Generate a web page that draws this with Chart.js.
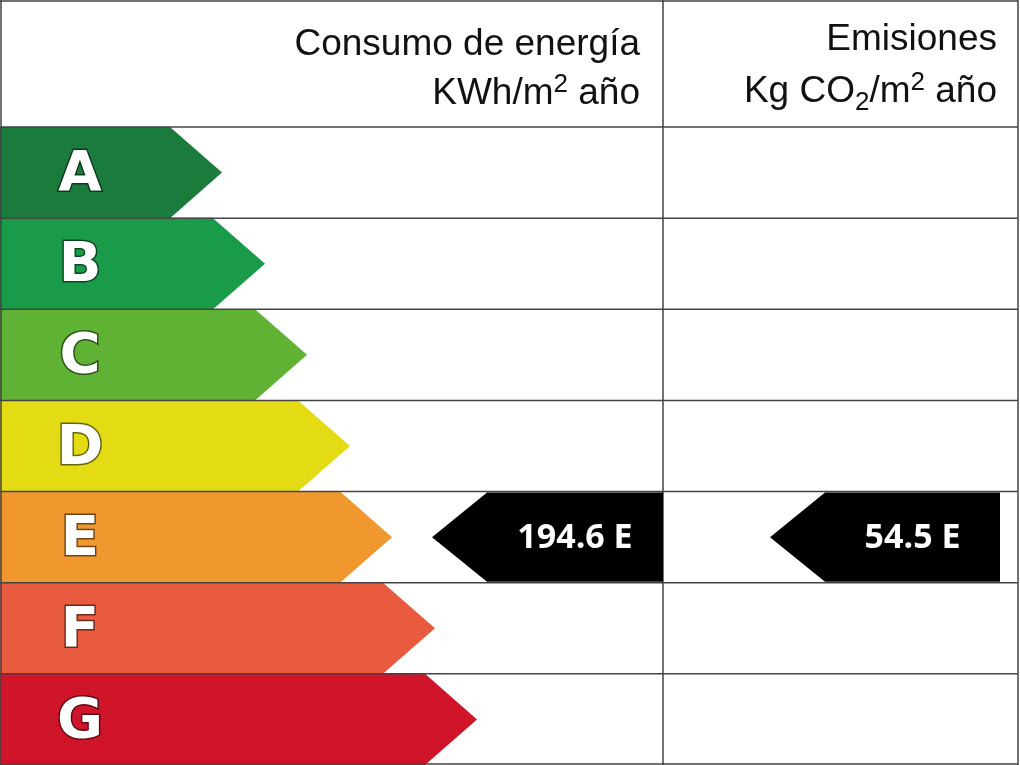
<!DOCTYPE html>
<html><head><meta charset="utf-8">
<script src="https://cdn.jsdelivr.net/npm/chart.js@4/dist/chart.umd.min.js"></script>
<style>html,body{margin:0;padding:0;background:#fff}#w{width:1020px;height:765px}</style>
</head><body><div id="w"><canvas id="c"></canvas></div>
<script>
const categories = ['A','B','C','D','E','F','G'];
const barEnds = [170,213,255,298,340,383,425];
const colors = ['#1b7b3d','#1a9b49','#5fb233','#e3dc14','#f0972e','#e95b3f','#d0152b'];
const ratingValues = ['194.6 E','54.5 E'];
const ratingClass = 'E';

const TIP = 52, HEAD = 127, DIV = 663, RIGHT = 1018;
const markerTips = [432, 770], markerEnds = [663, 1000];

const plugin = {
  id:'label',
  beforeDatasetsDraw(ch){
    const c = ch.ctx;
    c.save();
    c.fillStyle='#fff';c.fillRect(0,0,1020,765);
    c.restore();
  },
  afterDatasetsDraw(ch){
    const c = ch.ctx, y = ch.scales.y, meta = ch.getDatasetMeta(0);
    c.save();
    meta.data.forEach((b,i)=>{
      const h = b.height, top = b.y-h/2;
      c.fillStyle = colors[i];
      c.beginPath();
      c.moveTo(b.x-1, top); c.lineTo(b.x, top); c.lineTo(b.x+TIP, b.y); c.lineTo(b.x, top+h); c.lineTo(b.x-1, top+h);
      c.closePath(); c.fill();
      c.font = 'bold 56px "DejaVu Sans"';
      c.textAlign='center'; c.textBaseline='middle';
      c.lineWidth=3; c.strokeStyle='rgba(0,0,0,0.55)';
      c.strokeText(categories[i], 80, b.y+3);
      c.fillStyle='#fff';
      c.fillText(categories[i], 80, b.y+3);
    });
    // grid
    c.strokeStyle='#444'; c.lineWidth=1.5;
    const h = meta.data[0].height;
    c.beginPath();
    for(let i=0;i<categories.length;i++){
      const t = y.getPixelForValue(i)-h/2;
      c.moveTo(0,t); c.lineTo(RIGHT,t);
    }
    c.moveTo(0,1); c.lineTo(RIGHT,1);
    c.moveTo(1,0); c.lineTo(1,765);
    c.moveTo(RIGHT,0); c.lineTo(RIGHT,765);
    c.moveTo(0,764); c.lineTo(RIGHT,764);
    c.moveTo(DIV,0); c.lineTo(DIV,765);
    c.stroke();
    // markers
    const ey = y.getPixelForValue(categories.indexOf(ratingClass));
    const mh = h-2;
    ratingValues.forEach((v,k)=>{
      const tip = markerTips[k], end = markerEnds[k];
      c.fillStyle='#000';
      c.beginPath();
      c.moveTo(tip, ey); c.lineTo(tip+55, ey-mh/2); c.lineTo(end, ey-mh/2); c.lineTo(end, ey+mh/2); c.lineTo(tip+55, ey+mh/2);
      c.closePath(); c.fill();
      c.fillStyle='#fff'; c.font='bold 34px "Open Sans"'; c.textAlign='center'; c.textBaseline='middle';
      c.fillText(v, (tip+55+end)/2, ey+1);
    });
    // headers
    c.fillStyle='#111'; c.textBaseline='alphabetic';
    const F = '37px "Liberation Sans"', S = '26px "Liberation Sans"';
    function parts(xr, yb, list){
      let w=0; list.forEach(p=>{c.font=p[1]?S:F; w+=c.measureText(p[0]).width;});
      let x = xr-w; c.textAlign='left';
      list.forEach(p=>{c.font=p[1]?S:F; c.fillText(p[0], x, yb+(p[1]||0)); x+=c.measureText(p[0]).width;});
    }
    parts(640,55,[['Consumo de energía']]);
    parts(640,104,[['KWh/m'],['2',-12],[' año']]);
    parts(997,50,[['Emisiones']]);
    parts(997,102,[['Kg CO'],['2',8],['/m'],['2',-12],[' año']]);
    c.restore();
  }
};

new Chart(document.getElementById('c'),{
  type:'bar',
  data:{labels:categories,datasets:[{data:barEnds,backgroundColor:colors,barPercentage:1,categoryPercentage:1,borderWidth:0}]},
  options:{
    indexAxis:'y',responsive:true,maintainAspectRatio:false,animation:false,
    layout:{padding:{top:HEAD,left:0,right:0,bottom:0}},
    plugins:{legend:{display:false},tooltip:{enabled:false}},
    scales:{x:{display:false,min:0,max:1020},y:{display:false}}
  },
  plugins:[plugin]
});
</script></body></html>
